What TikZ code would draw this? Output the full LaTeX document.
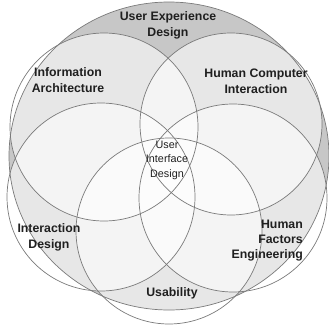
\documentclass[tikz,border=0pt]{standalone}
\usepackage{fontspec}
\setmainfont{Liberation Sans}
\usetikzlibrary{shapes.geometric}

\begin{document}
\begin{tikzpicture}[
    x=1pt, y=-1pt,
    every node/.style={font=\bfseries\fontsize{12.3}{16}\selectfont, text=black!88, align=center, inner sep=0pt},
    ring/.style={draw=black!52, line width=0.7pt},
    field/.style={circle, fill=white, fill opacity=0.58, minimum size=#1, inner sep=0pt}
  ]
  \useasboundingbox (0,0) rectangle (329,332);
  % outer field, grey where none of the disciplines reach
  \node[ellipse, fill=black!22, minimum width=320pt, minimum height=308pt] (ux) at (169,156) {};
  % the five disciplines, lighter the more of them overlap
  \node[field=188pt] (ia) at (104,127) {};
  \node[field=182pt] (hci) at (231,124) {};
  \node[field=188pt] (id) at (101,197) {};
  \node[field=188pt] (hfe) at (233,198) {};
  \node[field=186pt] (us) at (169,231) {};
  % outlines go on top of all fills
  \draw[ring] (ux.center) ellipse[x radius=160pt, y radius=154pt];
  \foreach \c/\r in {ia/94, hci/91, id/94, hfe/94, us/93}
    \draw[ring] (\c.center) circle[radius=\r pt];
  % labels
  \node (uxlabel) at (168,25) {User Experience\\Design};
  \node (ialabel) at (68,80) {Information\\Architecture};
  \node (hcilabel) at (256,81) {Human Computer\\Interaction};
  \node (idlabel) at (49,237) {Interaction\\Design};
  \node[align=right, anchor=east, font=\bfseries\fontsize{12.3}{15}\selectfont] (hfelabel) at (303,241) {Human\\Factors\\Engineering};
  \node (uslabel) at (172,293) {Usability};
  \node[font=\fontsize{10.8}{14.5}\selectfont] (uilabel) at (167,160) {User\\Interface\\Design};
\end{tikzpicture}
\end{document}
